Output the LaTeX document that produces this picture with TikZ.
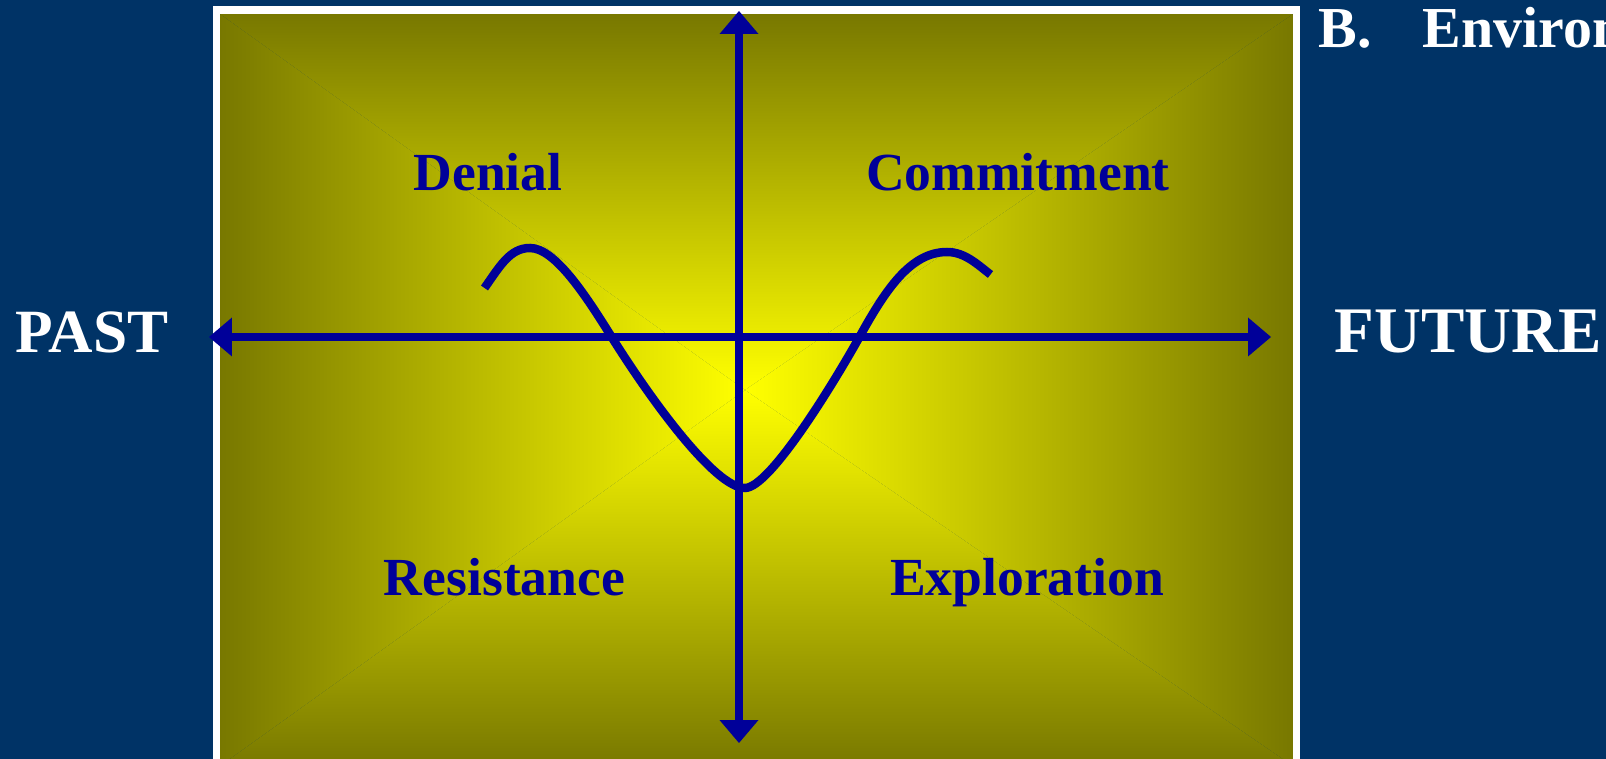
\documentclass[tikz,border=0pt]{standalone}
\usepackage{fontspec}
\setmainfont{Liberation Serif}
\usetikzlibrary{arrows.meta}
\definecolor{navy}{RGB}{0,51,102}
\definecolor{axisblue}{RGB}{0,0,153}
\definecolor{edgeolive}{RGB}{120,120,0}
\definecolor{midolive}{RGB}{205,205,0}
\definecolor{coreyellow}{RGB}{255,255,0}
\begin{document}
\begin{tikzpicture}[x={(0.02cm,0)}, y={(0,-0.02cm)},
  axis/.style={axisblue, line width=0.17cm,
    {Triangle[length=0.46cm, width=0.78cm, line width=0pt]}-{Triangle[length=0.46cm, width=0.78cm, line width=0pt]}},
  wave/.style={axisblue, line width=0.17cm},
  stage/.style={anchor=base, text=axisblue, font=\bfseries\fontsize{30.5}{36}\selectfont},
  side/.style={text=white, font=\bfseries\fontsize{35}{42}\selectfont}]
\useasboundingbox (0,0) rectangle (1606,759);
\fill[navy] (0,0) rectangle (1606,759);
\clip (0,0) rectangle (1606,759);
\coordinate (mid) at (745,390);
\shade[top color=edgeolive, middle color=midolive, bottom color=coreyellow] (220,14) -- (1293,14) -- (mid) -- cycle;
\shade[top color=coreyellow, middle color=midolive, bottom color=edgeolive] (220,766) -- (1293,766) -- (mid) -- cycle;
\shade[left color=edgeolive, middle color=midolive, right color=coreyellow] (220,14) -- (220,766) -- (mid) -- cycle;
\shade[left color=coreyellow, middle color=midolive, right color=edgeolive] (1293,14) -- (1293,766) -- (mid) -- cycle;
\draw[white, line width=0.15cm] (216.5,10) rectangle (1296.5,790);
\node[stage] (denial) at (488,190.5) {Denial};
\node[stage] (commit) at (1018,190.5) {Commitment};
\node[stage] (resist) at (504.5,596) {Resistance};
\node[stage] (explore) at (1027,596) {Exploration};
\node[side, anchor=base] (past) at (92,353) {PAST};
\node[side, anchor=base west, inner sep=0pt, font=\bfseries\fontsize{37}{44}\selectfont] (future) at (1334,353) {FUTURE};
\node[side, anchor=base west, inner sep=0pt, font=\bfseries\fontsize{33}{40}\selectfont] (title) at (1318,48) {B.\hspace{1.02cm}Environ};
\coordinate (pastend) at (209,337);
\coordinate (futureend) at (1271,337);
\coordinate (topend) at (739,11);
\coordinate (bottomend) at (739,743);
\draw[axis] (pastend) -- (futureend);
\draw[axis] (bottomend) -- (topend);
\draw[wave] (484.5,288) .. controls (500,266) and (510,248) .. (530,248)
  .. controls (555,248) and (586,296) .. (611,336)
  .. controls (651,400) and (715,488) .. (745,488)
  .. controls (770,488) and (835,381) .. (860,336)
  .. controls (885,291) and (910,252) .. (947,252)
  .. controls (965,252) and (978,265) .. (990.5,274.5);
\end{tikzpicture}
\end{document}
